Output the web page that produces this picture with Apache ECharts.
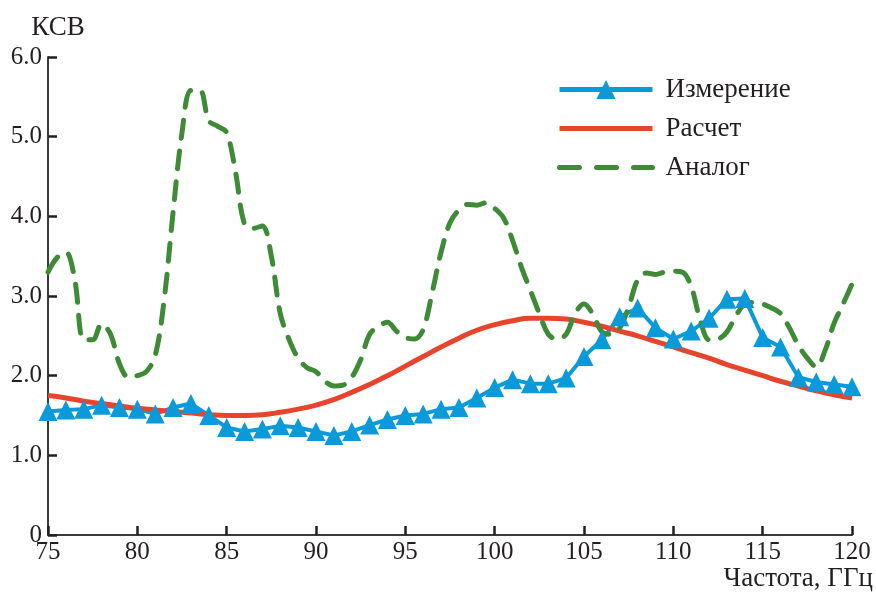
<!DOCTYPE html>
<html>
<head>
<meta charset="utf-8">
<script src="https://cdn.jsdelivr.net/npm/echarts@6/dist/echarts.min.js"></script>
<style>
  html, body { margin: 0; padding: 0; background: #fff; }
  #chart { width: 876px; height: 592px; }
</style>
</head>
<body>
<div id="chart"></div>
<script>
// measured VSWR, one point per GHz (75..120)
const measFreq = [75, 76, 77, 78, 79, 80, 81, 82, 83, 84, 85, 86, 87, 88, 89, 90, 91, 92, 93, 94, 95, 96, 97,
  98, 99, 100, 101, 102, 103, 104, 105, 106, 107, 108, 109, 110, 111, 112, 113, 114, 115, 116, 117, 118, 119, 120];
const measVals = [1.55, 1.57, 1.58, 1.63, 1.60, 1.58, 1.52, 1.60, 1.65, 1.50, 1.35, 1.30, 1.33, 1.37, 1.35, 1.30,
  1.25, 1.30, 1.38, 1.45, 1.50, 1.52, 1.58, 1.60, 1.72, 1.85, 1.95, 1.90, 1.90, 1.97, 2.24, 2.45, 2.74, 2.85,
  2.60, 2.46, 2.56, 2.72, 2.96, 2.97, 2.48, 2.36, 1.98, 1.92, 1.89, 1.86];

// calculated curve, same frequencies
const calcVals = [1.75, 1.72, 1.68, 1.65, 1.62, 1.59, 1.57, 1.55, 1.53, 1.51, 1.50, 1.50, 1.51, 1.54, 1.58, 1.63,
  1.70, 1.79, 1.89, 2.00, 2.12, 2.24, 2.36, 2.47, 2.57, 2.64, 2.69, 2.72, 2.72, 2.71, 2.67, 2.62, 2.56, 2.50,
  2.43, 2.36, 2.29, 2.22, 2.14, 2.07, 2.00, 1.93, 1.87, 1.81, 1.76, 1.72];

// analog device, every 0.5 GHz
const analogFreq = [75, 75.5, 76, 76.5, 77, 77.5, 78, 78.5, 79, 79.5, 80, 80.5, 81, 81.5, 82, 82.5, 83, 83.5,
  84, 84.5, 85, 85.5, 86, 86.5, 87, 87.5, 88, 88.5, 89, 89.5, 90, 90.5, 91, 91.5, 92, 92.5, 93, 93.5, 94, 94.5,
  95, 95.5, 96, 96.5, 97, 97.5, 98, 98.5, 99, 99.5, 100, 100.5, 101, 101.5, 102, 102.5, 103, 103.5, 104, 104.5,
  105, 105.5, 106, 106.5, 107, 107.5, 108, 108.5, 109, 109.5, 110, 110.5, 111, 111.5, 112, 112.5, 113, 113.5,
  114, 114.5, 115, 115.5, 116, 116.5, 117, 117.5, 118, 118.5, 119, 119.5, 120];
const analogVals = [3.30, 3.48, 3.55, 3.20, 2.45, 2.45, 2.65, 2.52, 2.15, 1.98, 2.00, 2.05, 2.25, 2.95, 4.05,
  5.05, 5.58, 5.58, 5.20, 5.13, 5.05, 4.55, 3.90, 3.85, 3.88, 3.50, 2.78, 2.45, 2.22, 2.10, 2.05, 1.93, 1.87,
  1.88, 1.98, 2.20, 2.52, 2.62, 2.67, 2.56, 2.48, 2.46, 2.58, 3.04, 3.55, 3.92, 4.08, 4.15, 4.14, 4.17, 4.10,
  3.98, 3.70, 3.36, 3.07, 2.78, 2.52, 2.46, 2.52, 2.78, 2.90, 2.77, 2.55, 2.52, 2.60, 2.86, 3.20, 3.29, 3.27,
  3.30, 3.31, 3.30, 3.12, 2.70, 2.45, 2.46, 2.55, 2.75, 2.90, 2.92, 2.90, 2.85, 2.78, 2.60, 2.38, 2.22, 2.11,
  2.32, 2.66, 2.90, 3.15];

const seriesNames = ['Измерение', 'Расчет', 'Аналог'];

const zip = (xs, ys) => xs.map((x, i) => [x, ys[i]]);

const font = 'Liberation Serif';
const textColor = '#231f20';

const chart = echarts.init(document.getElementById('chart'));

chart.setOption({
  animation: false,
  backgroundColor: '#fff',
  grid: { left: 48, right: 21, top: 57, bottom: 57, containLabel: false },
  legend: {
    orient: 'vertical',
    left: 552,
    top: 71,
    itemWidth: 93,
    itemHeight: 24,
    itemGap: 12,
    textStyle: { fontFamily: font, fontSize: 27, lineHeight: 24, color: textColor, padding: [0, 0, 0, 8] },
    data: [
      { name: seriesNames[0], lineStyle: { width: 5 } },
      { name: seriesNames[1], lineStyle: { width: 5 }, itemStyle: { opacity: 0 } },
      { name: seriesNames[2], lineStyle: { width: 5, type: [20, 17] }, itemStyle: { opacity: 0 } }
    ]
  },
  xAxis: {
    type: 'value',
    min: 75,
    max: 120,
    interval: 5,
    name: 'Частота, ГГц',
    nameLocation: 'end',
    nameGap: 21,
    nameTextStyle: {
      fontFamily: font, fontSize: 27, color: textColor,
      align: 'right', verticalAlign: 'top', padding: [30, 0, 0, 0]
    },
    splitLine: { show: false },
    axisLine: { lineStyle: { color: '#3a3a3a', width: 2 } },
    axisTick: { inside: true, length: 9, lineStyle: { color: '#231f20', width: 2.5 } },
    axisLabel: { fontFamily: font, fontSize: 25, color: textColor, margin: 5 }
  },
  yAxis: {
    type: 'value',
    min: 0,
    max: 6,
    interval: 1,
    name: 'КСВ',
    nameLocation: 'end',
    nameGap: 29,
    nameTextStyle: {
      fontFamily: font, fontSize: 27, color: textColor,
      align: 'center', verticalAlign: 'middle', padding: [0, 0, 0, 20]
    },
    splitLine: { show: false },
    axisLine: { show: true, lineStyle: { color: '#3a3a3a', width: 2 } },
    axisTick: { show: true, inside: true, length: 9, lineStyle: { color: '#231f20', width: 2.5 } },
    axisLabel: {
      fontFamily: font, fontSize: 25, color: textColor, margin: 6,
      formatter: v => (v === 0 ? '0' : v.toFixed(1))
    }
  },
  series: [
    {
      name: seriesNames[0],
      type: 'line',
      data: zip(measFreq, measVals),
      symbol: 'triangle',
      symbolSize: 19,
      itemStyle: { color: '#0a9ad9' },
      lineStyle: { color: '#0a9ad9', width: 4 }
    },
    {
      name: seriesNames[1],
      type: 'line',
      data: zip(measFreq, calcVals),
      smooth: true,
      showSymbol: false,
      itemStyle: { color: '#e8432c' },
      lineStyle: { color: '#e8432c', width: 5 }
    },
    {
      name: seriesNames[2],
      type: 'line',
      data: zip(analogFreq, analogVals),
      smooth: 0.35,
      showSymbol: false,
      itemStyle: { color: '#3e8a37' },
      lineStyle: { color: '#3e8a37', width: 5, type: [18, 13], cap: 'round' }
    }
  ]
});

window.addEventListener('resize', () => chart.resize());
</script>
</body>
</html>
